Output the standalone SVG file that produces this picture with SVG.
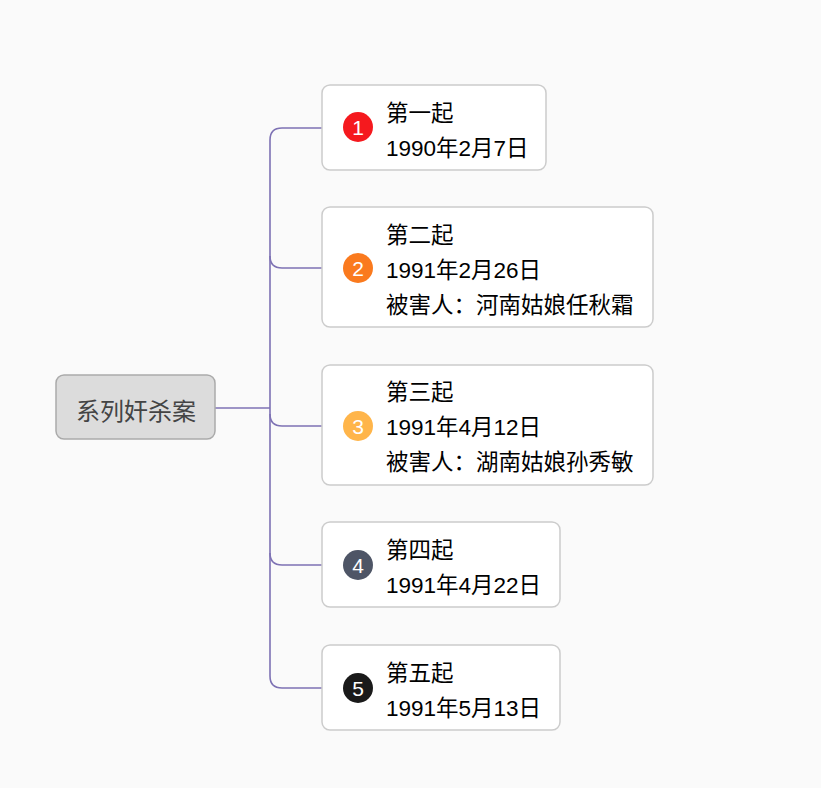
<svg xmlns="http://www.w3.org/2000/svg" width="821" height="788" viewBox="0 0 821 788">
<style>
.bg{fill:#fafafa}
.node{fill:#ffffff;stroke:#cccccc;stroke-width:1.5}
.root{fill:#dcdcdc;stroke:#aaaaaa;stroke-width:1.5}
.t{font-family:"Liberation Sans","Noto Sans CJK SC",sans-serif;font-size:22.5px;fill:#000000}
.rt{font-family:"Liberation Sans","Noto Sans CJK SC",sans-serif;font-size:24px;fill:#444444}
.num{font-family:"Liberation Sans","Noto Sans CJK SC",sans-serif;font-size:21px;fill:#ffffff;text-anchor:middle}
.conn{fill:none;stroke:#7e72b4;stroke-width:1.6}
</style>
<rect class="bg" x="0" y="0" width="821" height="788"/>
<g id="connectors">
<path class="conn" d="M215,408 H270"/>
<path class="conn" d="M322,128 H282 Q270,128 270,140 V676 Q270,688 282,688 H322"/>
<path class="conn" d="M270,256 Q270,268 282,268 H322"/>
<path class="conn" d="M270,414 Q270,426 282,426 H322"/>
<path class="conn" d="M270,553 Q270,565 282,565 H322"/>
</g>
<g id="root">
<rect class="root" x="56" y="375" width="159" height="64" rx="8"/>
<text class="rt" x="136" y="420" text-anchor="middle">系列奸杀案</text>
</g>
<g id="node1">
<rect class="node" x="322" y="85" width="224" height="85" rx="8"/>
<circle cx="358" cy="127" r="15" fill="#f5191e"/>
<text class="num" x="358" y="134.5">1</text>
<text class="t" x="386" y="121">第一起</text>
<text class="t" x="386" y="156">1990年2月7日</text>
</g>
<g id="node2">
<rect class="node" x="322" y="207" width="331" height="120" rx="8"/>
<circle cx="358" cy="268" r="15" fill="#fa7a1e"/>
<text class="num" x="358" y="275.5">2</text>
<text class="t" x="386" y="243">第二起</text>
<text class="t" x="386" y="278">1991年2月26日</text>
<text class="t" x="386" y="313">被害人：河南姑娘任秋霜</text>
</g>
<g id="node3">
<rect class="node" x="322" y="365" width="331" height="120" rx="8"/>
<circle cx="358" cy="426" r="15" fill="#ffb54a"/>
<text class="num" x="358" y="433.5">3</text>
<text class="t" x="386" y="400">第三起</text>
<text class="t" x="386" y="435">1991年4月12日</text>
<text class="t" x="386" y="470">被害人：湖南姑娘孙秀敏</text>
</g>
<g id="node4">
<rect class="node" x="322" y="522" width="238" height="85" rx="8"/>
<circle cx="358" cy="565" r="15" fill="#4e5566"/>
<text class="num" x="358" y="572.5">4</text>
<text class="t" x="386" y="558">第四起</text>
<text class="t" x="386" y="593">1991年4月22日</text>
</g>
<g id="node5">
<rect class="node" x="322" y="645" width="238" height="85" rx="8"/>
<circle cx="358" cy="688" r="15" fill="#1a1a1a"/>
<text class="num" x="358" y="695.5">5</text>
<text class="t" x="386" y="681">第五起</text>
<text class="t" x="386" y="716">1991年5月13日</text>
</g>
</svg>
